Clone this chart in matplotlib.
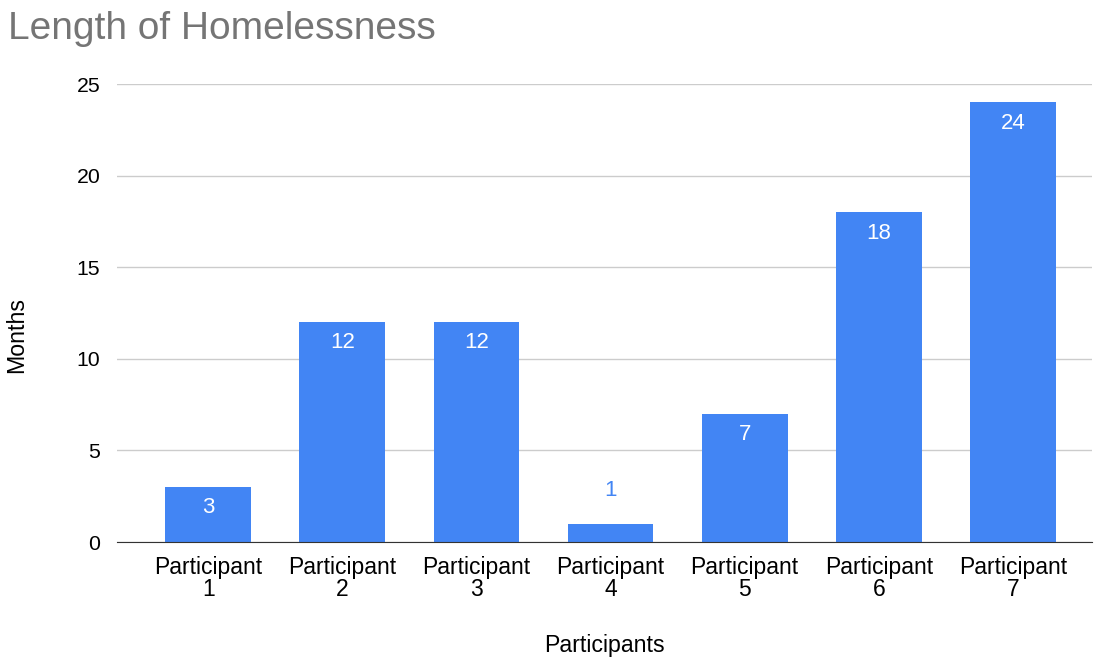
import matplotlib.pyplot as plt

# data
participants = ['Participant\n1', 'Participant\n2', 'Participant\n3', 'Participant\n4',
                'Participant\n5', 'Participant\n6', 'Participant\n7']
months = [3, 12, 12, 1, 7, 18, 24]
yticks = [0, 5, 10, 15, 20, 25]

plt.rcParams['font.family'] = ['Liberation Sans', 'DejaVu Sans']

fig = plt.figure(figsize=(10.94, 6.62), dpi=100)
ax = fig.add_axes([117 / 1094, 1 - 542 / 662, 975 / 1094, 458 / 662])

x = list(range(len(months)))
bars = ax.bar(x, months, width=0.64, color='#4285F4', zorder=3)

# value labels: white inside the bar, blue above when the bar is too short
for xi, v in zip(x, months):
    if v >= 2:
        ax.annotate(str(v), (xi, v), xytext=(0, -15), textcoords='offset points',
                    ha='center', va='center', color='white', fontsize=16)
    else:
        ax.annotate(str(v), (xi, v), xytext=(0, 24), textcoords='offset points',
                    ha='center', va='center', color='#4285F4', fontsize=16)

ax.set_xlim(-0.68, 6.59)
ax.set_ylim(0, 25)
ax.set_yticks(yticks)
ax.set_xticks(x)
ax.set_xticklabels(participants, fontsize=16.5, linespacing=0.95)
ax.tick_params(axis='y', labelsize=15.3, length=0, pad=12)
ax.tick_params(axis='x', length=0, pad=10)
ax.grid(axis='y', color='#cccccc', linewidth=1, zorder=0)
for side in ['top', 'right', 'left']:
    ax.spines[side].set_visible(False)
ax.spines['bottom'].set_color('#333333')
ax.spines['bottom'].set_zorder(4)

ax.set_ylabel('Months', fontsize=16.7)
ax.yaxis.set_label_coords(-89 / 975, 0.452)
ax.set_xlabel('Participants', fontsize=16.7)
ax.xaxis.set_label_coords(0.5, -92 / 458)
fig.text(8 / 1094, 1 - 29 / 662, 'Length of Homelessness', fontsize=28,
         color='#757575', va='center', ha='left')

plt.savefig('out.png', dpi=100)
